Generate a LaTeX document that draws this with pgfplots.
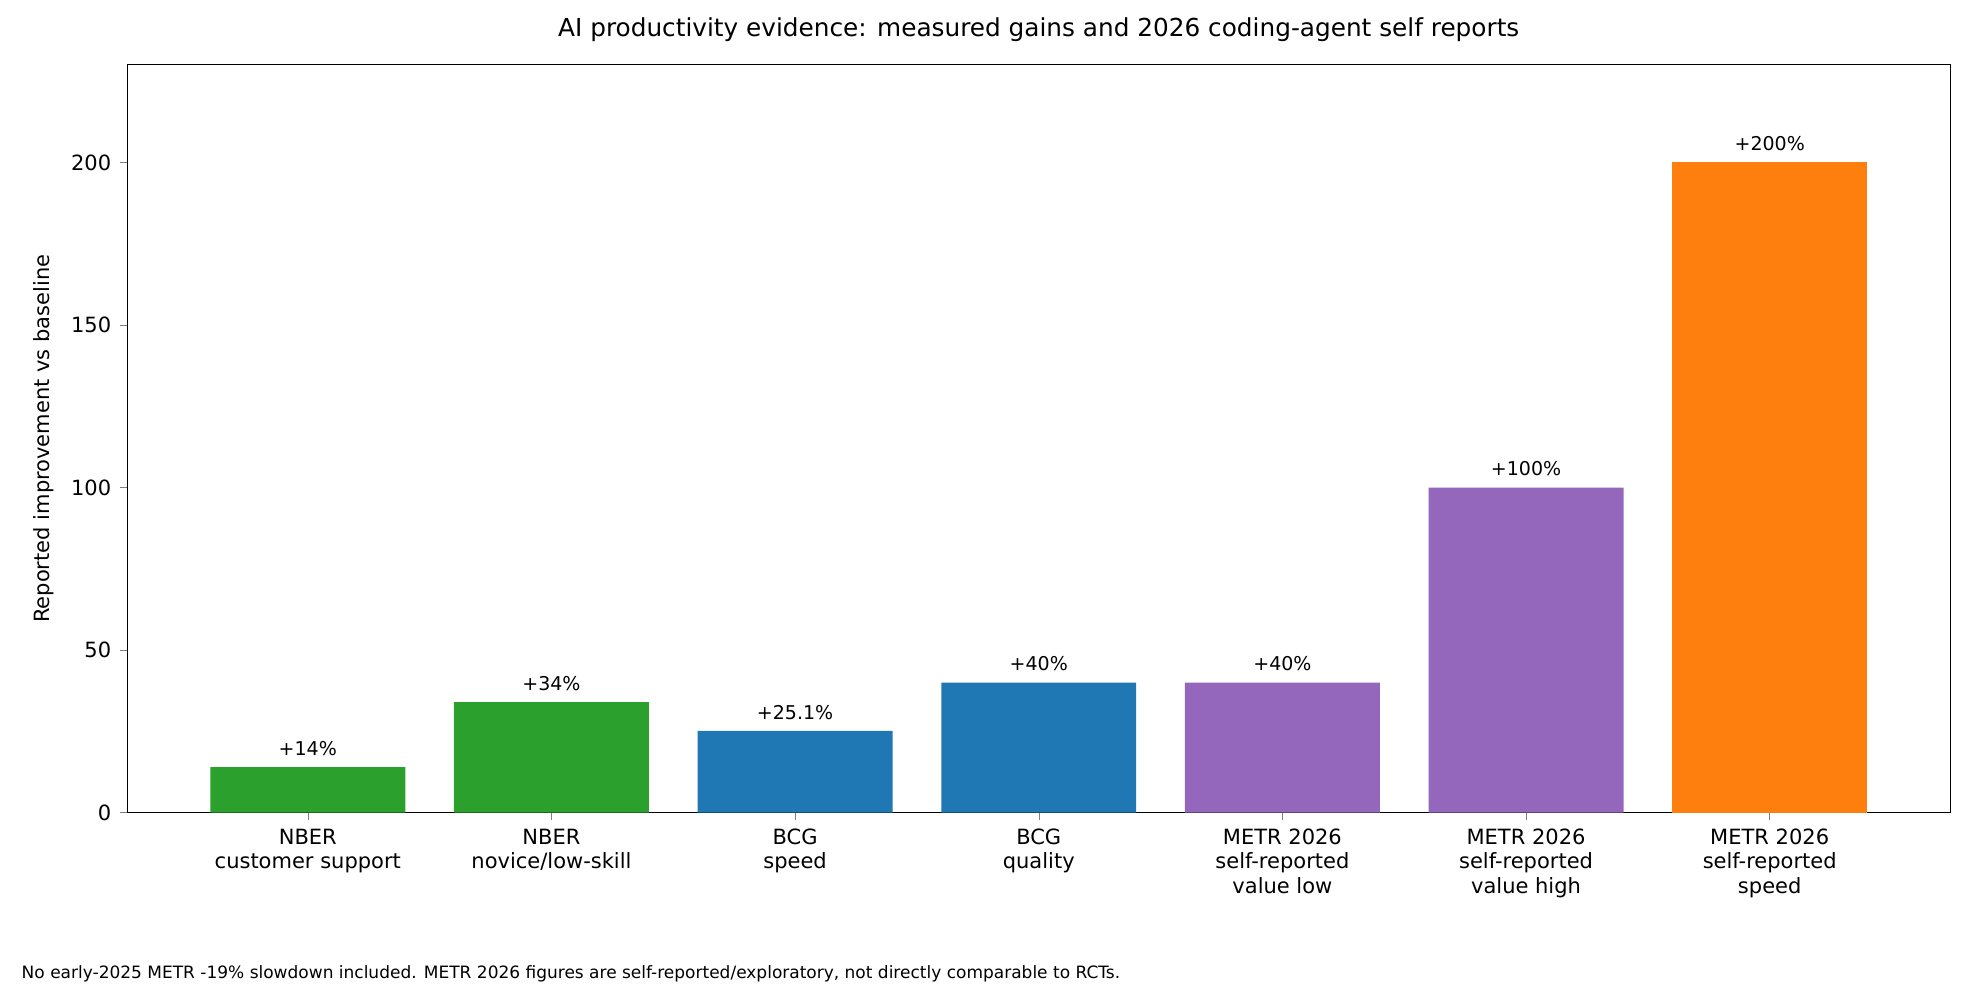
\documentclass[border=0pt]{standalone}
\usepackage{pgfplots}
\pgfplotsset{compat=1.18}
\usepackage{fontspec}
\setmainfont{DejaVu Sans}
\definecolor{cg}{HTML}{2CA02C}
\definecolor{cb}{HTML}{1F77B4}
\definecolor{cp}{HTML}{9467BD}
\definecolor{co}{HTML}{FF7F0E}
\begin{document}
\begin{tikzpicture}
\path (-51pt,-71pt) rectangle (741pt,325pt);
\begin{axis}[
  scale only axis, width=729pt, height=299pt,
  xmin=-0.74, xmax=6.74, ymin=0, ymax=230,
  ybar, bar width=0.8, bar shift=0pt,
  xtick={0,...,6},
  xticklabels={{NBER\\customer support},{NBER\\novice/low-skill},{BCG\\speed},{BCG\\quality},{METR 2026\\self-reported\\value low},{METR 2026\\self-reported\\value high},{METR 2026\\self-reported\\speed}},
  xticklabel style={align=center, font=\fontsize{8.4}{9.8}\selectfont},
  yticklabel style={font=\fontsize{8.4}{10}\selectfont},
  ytick={0,50,100,150,200},
  /pgf/number format/assume math mode=true,
  tick align=outside, tick pos=left, major tick length=3pt,
  ylabel={Reported improvement vs baseline},
  ylabel style={font=\fontsize{8.4}{10}\selectfont},
  title={AI productivity evidence: measured gains and 2026 coding-agent self reports},
  title style={font=\fontsize{9.9}{12}\selectfont},
  nodes near coords, point meta=explicit symbolic,
  every node near coord/.style={font=\fontsize{7.6}{9}\selectfont, color=black, yshift=1pt},
]
\addplot[fill=cg, draw=none] coordinates {(0,14) [+14\%] (1,34) [+34\%]};
\addplot[fill=cb, draw=none] coordinates {(2,25.1) [+25.1\%] (3,40) [+40\%]};
\addplot[fill=cp, draw=none] coordinates {(4,40) [+40\%] (5,100) [+100\%]};
\addplot[fill=co, draw=none] coordinates {(6,200) [+200\%]};
\end{axis}
\node[anchor=base west, font=\fontsize{6.8}{8}\selectfont, inner sep=0pt] at (-42.5pt,-66.5pt) {No early-2025 METR -19\% slowdown included. METR 2026 figures are self-reported/exploratory, not directly comparable to RCTs.};
\end{tikzpicture}
\end{document}
